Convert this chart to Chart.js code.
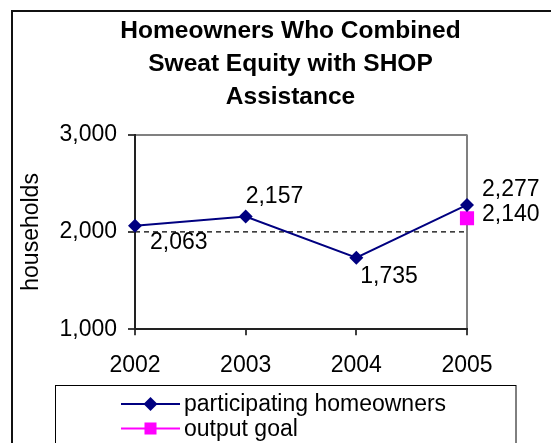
<!DOCTYPE html>
<html>
<head>
<meta charset="utf-8">
<script src="https://cdn.jsdelivr.net/npm/chart.js@4/dist/chart.umd.min.js"></script>
<style>
  html, body { margin: 0; padding: 0; background: #fff; }
  #wrap { position: relative; width: 551px; height: 443px; overflow: hidden; }
  #frame { position: absolute; left: 11px; top: 10px; width: 600px; height: 500px; border-left: 2px solid #111; border-top: 2px solid #111; box-sizing: border-box; }
  canvas { position: absolute; left: 0; top: 0; }
</style>
</head>
<body>
<div id="wrap">
  <div id="frame"></div>
  <canvas id="c" width="551" height="443"></canvas>
</div>
<script>
const titleLines = ['Homeowners Who Combined', 'Sweat Equity with SHOP', 'Assistance'];
const categories = ['2002', '2003', '2004', '2005'];
const participating = [2063, 2157, 1735, 2277];
const outputGoal = [null, null, null, 2140];
const referenceLine = [2000, 2000, 2000, 2000];
const yTicks = [1000, 2000, 3000];
const seriesNames = ['participating homeowners', 'output goal'];

const FONT = "'Liberation Sans', Arial, sans-serif";
const FS = 23;

const labelOffsets = {
  0: [[15, 17], [0, -20], [4, 19], [15, -15]],
  1: [null, null, null, [15, -4]]
};

const dataLabelPlugin = {
  id: 'dataLabels',
  afterDatasetsDraw(chart) {
    const ctx = chart.ctx;
    ctx.save();
    ctx.font = FS + 'px ' + FONT;
    ctx.fillStyle = '#000';
    ctx.textAlign = 'left';
    ctx.textBaseline = 'middle';
    Object.keys(labelOffsets).forEach(di => {
      const meta = chart.getDatasetMeta(+di);
      const ds = chart.data.datasets[+di];
      meta.data.forEach((pt, i) => {
        const v = ds.data[i];
        const off = labelOffsets[di][i];
        if (v == null || !off) return;
        ctx.fillText(v.toLocaleString('en-US'), pt.x + off[0], pt.y + off[1]);
      });
    });
    ctx.restore();
  }
};

function drawMarker(ctx, style, x, y, r, color) {
  ctx.fillStyle = color;
  ctx.beginPath();
  if (style === 'rectRot') {
    ctx.moveTo(x, y - r); ctx.lineTo(x + r, y); ctx.lineTo(x, y + r); ctx.lineTo(x - r, y);
  } else {
    const s = Math.SQRT1_2 * r;
    ctx.rect(x - s, y - s, 2 * s, 2 * s);
  }
  ctx.closePath();
  ctx.fill();
}

const legendPlugin = {
  id: 'customLegend',
  afterDraw(chart) {
    const ctx = chart.ctx;
    ctx.save();
    ctx.strokeStyle = '#000';
    ctx.lineWidth = 1;
    ctx.strokeRect(55.5, 385.5, 460.5, 80);
    const rows = [404, 428.5];
    ctx.font = FS + 'px ' + FONT;
    ctx.textBaseline = 'middle';
    ctx.textAlign = 'left';
    [0, 1].forEach((di, k) => {
      const ds = chart.data.datasets[di];
      const y = rows[k];
      ctx.strokeStyle = ds.borderColor;
      ctx.lineWidth = 2;
      ctx.beginPath();
      ctx.moveTo(121, y); ctx.lineTo(180, y);
      ctx.stroke();
      drawMarker(ctx, ds.pointStyle, 150.5, y, di === 0 ? 7 : 8.5, ds.pointBackgroundColor);
      ctx.fillStyle = '#000';
      ctx.fillText(ds.label, 184, y + 1);
    });
    ctx.restore();
  }
};

const titleShiftPlugin = {
  id: 'titleShift',
  afterLayout(chart) {
    const t = chart.titleBlock;
    if (t) { t.left += 57; t.right += 57; }
  }
};

new Chart(document.getElementById('c'), {
  type: 'line',
  data: {
    labels: categories,
    datasets: [
      {
        label: seriesNames[0],
        data: participating,
        borderColor: '#000080',
        backgroundColor: '#000080',
        pointBackgroundColor: '#000080',
        pointBorderColor: '#000080',
        pointStyle: 'rectRot',
        pointRadius: 7,
        pointBorderWidth: 0,
        borderWidth: 2,
        tension: 0
      },
      {
        label: seriesNames[1],
        data: outputGoal,
        borderColor: '#FF00FF',
        backgroundColor: '#FF00FF',
        pointBackgroundColor: '#FF00FF',
        pointBorderColor: '#FF00FF',
        pointStyle: 'rect',
        pointRadius: 10,
        pointBorderWidth: 0,
        borderWidth: 2,
        spanGaps: false
      },
      {
        label: 'reference',
        data: referenceLine,
        borderColor: '#000',
        borderWidth: 1.2,
        borderDash: [5, 4],
        pointRadius: 0,
        order: 5
      }
    ]
  },
  options: {
    responsive: false,
    animation: false,
    events: [],
    layout: { padding: { left: 0, right: 84, top: 0, bottom: 58 } },
    plugins: {
      legend: { display: false },
      tooltip: { enabled: false },
      title: {
        display: true,
        text: titleLines,
        color: '#000',
        font: { family: FONT, size: 24.5, weight: 'bold', lineHeight: 1.35 },
        padding: { top: 14.5, bottom: 20.8 }
      }
    },
    scales: {
      x: {
        type: 'category',
        offset: false,
        afterFit(scale) { scale.height = 55.7; },
        grid: {
          offset: false,
          drawOnChartArea: true,
          color: ctx => ctx.index === categories.length - 1 ? '#808080' : 'rgba(0,0,0,0)',
          lineWidth: 2,
          tickColor: '#000',
          tickWidth: 1.5,
          tickLength: 6
        },
        border: { display: true, color: '#222', width: 2 },
        ticks: { color: '#000', font: { family: FONT, size: FS }, padding: 17, maxRotation: 0, autoSkip: false }
      },
      y: {
        min: yTicks[0],
        max: yTicks[yTicks.length - 1],
        afterFit(scale) { scale.width = 135; },
        afterBuildTicks(scale) { scale.ticks = yTicks.map(v => ({ value: v })); },
        grid: {
          color: ctx => (ctx.tick && ctx.tick.value === yTicks[yTicks.length - 1]) ? '#808080' : 'rgba(0,0,0,0)',
          lineWidth: 2,
          tickColor: '#000',
          tickWidth: 1.5,
          tickLength: 7
        },
        border: { display: true, color: '#222', width: 2 },
        ticks: {
          color: '#000',
          font: { family: FONT, size: FS },
          padding: 11,
          callback: v => v.toLocaleString('en-US')
        },
        title: {
          display: true,
          text: 'households',
          color: '#000',
          font: { family: FONT, size: FS },
          padding: { top: 18, bottom: 0 }
        }
      }
    }
  },
  plugins: [titleShiftPlugin, dataLabelPlugin, legendPlugin]
});
</script>
</body>
</html>
